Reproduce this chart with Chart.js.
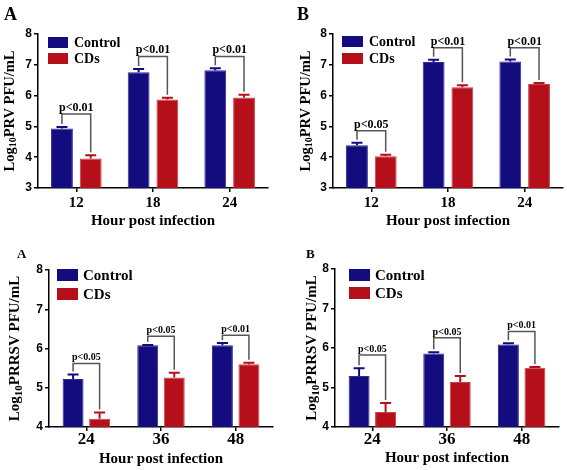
<!DOCTYPE html>
<html>
<head>
<meta charset="utf-8">
<script src="https://cdn.jsdelivr.net/npm/chart.js@4.4.1/dist/chart.umd.min.js"></script>
<style>
  html, body { margin: 0; padding: 0; background: #fff; }
  #wrap { position: relative; width: 567px; height: 470px; overflow: hidden; }
  #wrap canvas { position: absolute; }
</style>
</head>
<body>
<div id="wrap">
  <canvas id="c1" width="283" height="235" style="left:0;top:0"></canvas>
  <canvas id="c2" width="284" height="235" style="left:283px;top:0"></canvas>
  <canvas id="c3" width="283" height="235" style="left:0;top:235px"></canvas>
  <canvas id="c4" width="284" height="235" style="left:283px;top:235px"></canvas>
</div>
<script>
// ---- data ----
var seriesNames = ['Control', 'CDs'];

var prvHours = ['12', '18', '24'];
var prvTicks = [3, 4, 5, 6, 7, 8];

var prvControlA = [4.93, 6.76, 6.82];
var prvControlErrA = [0.05, 0.10, 0.07];
var prvCdsA = [3.96, 5.87, 5.94];
var prvCdsErrA = [0.10, 0.06, 0.09];
var prvBracketA = [5.40, 7.27, 7.27];
var prvPA = ['p<0.01', 'p<0.01', 'p<0.01'];

var prvControlB = [4.39, 7.09, 7.11];
var prvControlErrB = [0.08, 0.07, 0.06];
var prvCdsB = [4.03, 6.27, 6.38];
var prvCdsErrB = [0.05, 0.07, 0.03];
var prvBracketB = [4.86, 7.55, 7.55];
var prvPB = ['p<0.05', 'p<0.01', 'p<0.01'];

var prrsvHours = ['24', '36', '48'];
var prrsvTicks = [4, 5, 6, 7, 8];

var prrsvControlA = [5.22, 6.08, 6.08];
var prrsvControlErrA = [0.12, 0.01, 0.06];
var prrsvCdsA = [4.21, 5.26, 5.60];
var prrsvCdsErrA = [0.16, 0.12, 0.04];
var prrsvBracketA = [5.62, 6.31, 6.34];
var prrsvPA = ['p<0.05', 'p<0.05', 'p<0.01'];

var prrsvControlB = [5.29, 5.86, 6.09];
var prrsvControlErrB = [0.20, 0.03, 0.03];
var prrsvCdsB = [4.38, 5.14, 5.50];
var prrsvCdsErrB = [0.23, 0.15, 0.02];
var prrsvBracketB = [5.82, 6.26, 6.42];
var prrsvPB = ['p<0.05', 'p<0.05', 'p<0.01'];

var blue = '#120c7e';
var red = '#b5101a';
var serif = "'Liberation Serif', 'Times New Roman', serif";
var sans = "'Liberation Sans', Arial, sans-serif";

// errors, brackets, legend and titles
var decorPlugin = {
  id: 'decor',
  afterDatasetsDraw: function(chart) {
    var o = chart.options.plugins.decor;
    var ctx = chart.ctx;
    var ys = chart.scales.y;
    var area = chart.chartArea;
    ctx.save();

    // error caps (upper only)
    chart.data.datasets.forEach(function(ds, di) {
      var meta = chart.getDatasetMeta(di);
      ctx.strokeStyle = ds.backgroundColor;
      ctx.lineWidth = 2;
      meta.data.forEach(function(bar, i) {
        var yt = ys.getPixelForValue(ds.data[i] + ds.err[i]);
        ctx.beginPath();
        ctx.moveTo(bar.x, bar.y);
        ctx.lineTo(bar.x, yt);
        ctx.moveTo(bar.x - o.capW / 2, yt);
        ctx.lineTo(bar.x + o.capW / 2, yt);
        ctx.stroke();
      });
    });

    // significance brackets
    var m0 = chart.getDatasetMeta(0), m1 = chart.getDatasetMeta(1);
    var d0 = chart.data.datasets[0], d1 = chart.data.datasets[1];
    o.bracket.forEach(function(v, i) {
      var by = ys.getPixelForValue(v);
      var x0 = m0.data[i].x, x1 = m1.data[i].x;
      var y0 = ys.getPixelForValue(d0.data[i] + d0.err[i]) - 3;
      var y1 = ys.getPixelForValue(d1.data[i] + d1.err[i]) - 3;
      ctx.strokeStyle = '#555';
      ctx.lineWidth = 1.5;
      ctx.beginPath();
      ctx.moveTo(x0, y0);
      ctx.lineTo(x0, by);
      ctx.lineTo(x1, by);
      ctx.lineTo(x1, y1);
      ctx.stroke();
      ctx.fillStyle = '#000';
      ctx.font = 'bold ' + o.pSize + 'px ' + serif;
      ctx.textAlign = 'center';
      ctx.textBaseline = 'alphabetic';
      ctx.fillText(o.p[i], (x0 + x1) / 2, by - 3);
    });

    // legend
    chart.data.datasets.forEach(function(ds, di) {
      var L = o.legend;
      var y = L.y + di * L.dy;
      ctx.fillStyle = ds.backgroundColor;
      ctx.fillRect(L.x, y, L.w, L.h);
      ctx.fillStyle = '#000';
      ctx.font = 'bold ' + L.size + 'px ' + serif;
      ctx.textAlign = 'left';
      ctx.textBaseline = 'middle';
      ctx.fillText(ds.label, L.tx, y + L.h / 2 + 1);
    });

    // panel letter
    ctx.font = 'bold ' + o.letterSize + 'px ' + serif;
    ctx.textAlign = 'left';
    ctx.textBaseline = 'alphabetic';
    ctx.fillText(o.letter, o.letterX, o.letterY);

    // x title
    ctx.font = 'bold ' + o.xtSize + 'px ' + serif;
    ctx.textAlign = 'center';
    ctx.textBaseline = 'middle';
    ctx.fillText('Hour post infection', (area.left + area.right) / 2, o.xtY);

    // y title with subscript
    var big = 'bold ' + o.ytSize + 'px ' + serif;
    var small = 'bold ' + Math.round(o.ytSize * 0.7) + 'px ' + serif;
    ctx.font = big;
    var wLog = ctx.measureText('Log').width;
    var wRest = ctx.measureText(o.ytRest).width;
    ctx.font = small;
    var wSub = ctx.measureText('10').width;
    var total = wLog + wSub + wRest;
    ctx.translate(o.ytX, (area.top + area.bottom) / 2);
    ctx.rotate(-Math.PI / 2);
    ctx.textAlign = 'left';
    ctx.textBaseline = 'middle';
    var sx = -total / 2;
    ctx.font = big;
    ctx.fillText('Log', sx, 0);
    ctx.font = small;
    ctx.fillText('10', sx + wLog, o.ytSize * 0.25);
    ctx.font = big;
    ctx.fillText(o.ytRest, sx + wLog + wSub, 0);
    ctx.restore();
  }
};

function makePanel(id, hours, ticks, ctrl, ctrlErr, cds, cdsErr, bracket, p, L) {
  new Chart(document.getElementById(id), {
    type: 'bar',
    data: {
      labels: hours,
      datasets: [
        { label: seriesNames[0], data: ctrl, err: ctrlErr, backgroundColor: blue,
          borderColor: '#2e2a96', borderWidth: 1, borderSkipped: 'bottom' },
        { label: seriesNames[1], data: cds, err: cdsErr, backgroundColor: red,
          borderColor: '#c8404a', borderWidth: 1, borderSkipped: 'bottom' }
      ]
    },
    options: {
      responsive: false,
      animation: false,
      layout: { padding: { left: 0, top: L.top, right: L.right, bottom: 0 } },
      datasets: { bar: { categoryPercentage: L.cat, barPercentage: L.bar } },
      scales: {
        x: {
          ticks: { color: '#000', font: { family: serif, weight: 'bold', size: L.xtick }, padding: L.xpad },
          grid: { offset: false, drawOnChartArea: false, tickLength: 4, color: '#000', lineWidth: 1.5 },
          border: { color: '#000', width: 1.5 },
          afterFit: function(s) { s.height = L.xh; }
        },
        y: {
          min: ticks[0], max: ticks[ticks.length - 1],
          afterBuildTicks: function(s) { s.ticks = ticks.map(function(v) { return { value: v }; }); },
          ticks: { color: '#000', font: { family: sans, weight: 'bold', size: 12 }, padding: 2 },
          grid: { drawOnChartArea: false, tickLength: 4, color: '#000', lineWidth: 1.5 },
          border: { color: '#000', width: 1.5 },
          afterFit: function(s) { s.width = L.yw; }
        }
      },
      plugins: {
        legend: { display: false },
        tooltip: { enabled: false },
        decor: {
          bracket: bracket, p: p, capW: 11, pSize: L.pSize,
          legend: L.legend, letter: L.letter, letterX: L.letterX, letterY: L.letterY,
          letterSize: L.letterSize, xtY: L.xtY, xtSize: L.xtSize,
          ytX: L.ytX, ytSize: L.ytSize, ytRest: L.ytRest
        }
      }
    },
    plugins: [decorPlugin]
  });
}

makePanel('c1', prvHours, prvTicks, prvControlA, prvControlErrA, prvCdsA, prvCdsErrA, prvBracketA, prvPA, {
  top: 34, right: 15, yw: 38, xh: 47, cat: 0.75, bar: 0.76, xtick: 15, xpad: 2, pSize: 12,
  legend: { x: 48, y: 37, dy: 16, w: 20, h: 11, tx: 74, size: 14 },
  letter: 'A', letterX: 4, letterY: 20, letterSize: 18,
  xtY: 221, xtSize: 15, ytX: 10, ytSize: 14.5, ytRest: 'PRV PFU/mL'
});
makePanel('c2', prvHours, prvTicks, prvControlB, prvControlErrB, prvCdsB, prvCdsErrB, prvBracketB, prvPB, {
  top: 34, right: 4, yw: 50, xh: 47, cat: 0.75, bar: 0.76, xtick: 15, xpad: 2, pSize: 12,
  legend: { x: 59, y: 36, dy: 17, w: 21, h: 11, tx: 86, size: 14 },
  letter: 'B', letterX: 14, letterY: 20, letterSize: 18,
  xtY: 221, xtSize: 15, ytX: 23, ytSize: 14.5, ytRest: 'PRV PFU/mL'
});
makePanel('c3', prrsvHours, prrsvTicks, prrsvControlA, prrsvControlErrA, prrsvCdsA, prrsvCdsErrA, prrsvBracketA, prrsvPA, {
  top: 35, right: 10, yw: 49, xh: 43, cat: 0.71, bar: 0.79, xtick: 17, xpad: -2, pSize: 10,
  legend: { x: 57, y: 34, dy: 19, w: 21, h: 12, tx: 83, size: 15 },
  letter: 'A', letterX: 17, letterY: 23, letterSize: 13,
  xtY: 224, xtSize: 15, ytX: 15, ytSize: 15, ytRest: 'PRRSV PFU/mL'
});
makePanel('c4', prrsvHours, prrsvTicks, prrsvControlB, prrsvControlErrB, prrsvCdsB, prrsvCdsErrB, prrsvBracketB, prrsvPB, {
  top: 34, right: 8, yw: 52, xh: 43, cat: 0.71, bar: 0.79, xtick: 17, xpad: -2, pSize: 10,
  legend: { x: 66, y: 34, dy: 18, w: 21, h: 12, tx: 92, size: 15 },
  letter: 'B', letterX: 23, letterY: 23, letterSize: 13,
  xtY: 223, xtSize: 15, ytX: 29, ytSize: 15, ytRest: 'PRRSV PFU/mL'
});
</script>
</body>
</html>
